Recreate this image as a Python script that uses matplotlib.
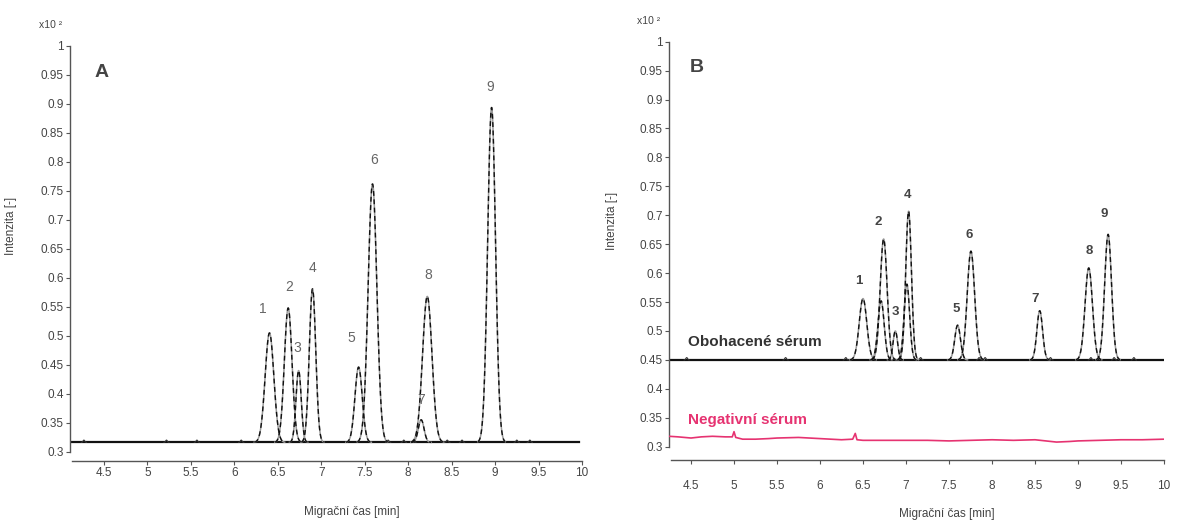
import matplotlib
matplotlib.use("Agg")
import matplotlib.pyplot as plt
from matplotlib.ticker import MultipleLocator, FormatStrFormatter
import numpy as np

plt.rcParams['font.family'] = ['Liberation Sans', 'DejaVu Sans']

# --- panel A: standards ---
a_baseline = 0.316
a_peak_time = [6.405, 6.62, 6.74, 6.90, 7.43, 7.59, 8.15, 8.22, 8.96]
a_peak_height = [0.505, 0.548, 0.440, 0.581, 0.446, 0.762, 0.355, 0.568, 0.894]
a_peak_width = [0.050, 0.044, 0.030, 0.037, 0.042, 0.050, 0.033, 0.054, 0.045]
a_bump_time = [4.27, 5.22, 5.57, 6.08, 7.77, 7.95, 8.06, 8.45, 8.62, 9.25, 9.4]
a_labels = ['1', '2', '3', '4', '5', '6', '7', '8', '9']

# --- panel B: spiked serum + negative serum ---
b_baseline = 0.450
b_peak_time = [6.50, 6.74, 6.876, 7.03, 7.60, 7.755, 8.555, 9.125, 9.35]
b_peak_height = [0.556, 0.659, 0.500, 0.707, 0.510, 0.638, 0.535, 0.609, 0.667]
b_peak_width = [0.044, 0.040, 0.026, 0.033, 0.033, 0.043, 0.033, 0.043, 0.040]
b_extra_time = [6.71, 7.01]
b_extra_height = [0.552, 0.581]
b_extra_width = [0.036, 0.032]
b_bump_time = [4.45, 5.6, 6.3, 7.17, 7.85, 7.92, 8.68, 9.15, 9.42, 9.65]
b_labels = ['1', '2', '3', '4', '5', '6', '7', '8', '9']

neg_time = [4.244, 4.35, 4.5, 4.62, 4.75, 4.9, 4.98, 5.0, 5.02, 5.1, 5.25, 5.4, 5.5,
            5.75, 6.0, 6.25, 6.38, 6.41, 6.43, 6.5, 6.75, 7.0, 7.25, 7.5, 7.75,
            8.0, 8.25, 8.5, 8.75, 8.9, 9.0, 9.25, 9.5, 9.75, 10.0]
neg_value = [0.318, 0.317, 0.315, 0.317, 0.318, 0.317, 0.317, 0.326, 0.316, 0.313, 0.313,
             0.314, 0.315, 0.316, 0.314, 0.312, 0.313, 0.323, 0.312, 0.311, 0.311, 0.311,
             0.311, 0.310, 0.311, 0.312, 0.311, 0.312, 0.308, 0.309, 0.310, 0.311, 0.312,
             0.312, 0.313]

# label offsets in points (dx, dy) from each apex
a_label_off = [(-5, 12), (1, 10), (-1, 11), (0, 10), (-5, 16), (1, 12), (0, 9), (1, 10), (-1, 10)]
b_label_off = [(-3, 8), (-4, 8), (0, 9), (-1, 7), (-1, 7), (-1, 7), (-3, 4), (0, 8), (-3, 10)]


def draw_peak(ax, t0, h, w, base):
    t = np.linspace(t0 - 3.5 * w, t0 + 3.5 * w, 120)
    y = base + (h - base) * np.exp(-0.5 * ((t - t0) / w) ** 2)
    ax.plot(t, y, color='#9a9a9a', lw=1.1, zorder=3)
    ax.plot(t, y, color='#111111', lw=1.0, dashes=(3.5, 2.5), zorder=4)


def draw_bump(ax, t0, base):
    t = np.linspace(t0 - 0.03, t0 + 0.03, 30)
    y = base + 0.004 * np.exp(-0.5 * ((t - t0) / 0.01) ** 2)
    ax.plot(t, y, color='#333333', lw=0.8, zorder=3)


def style_axis(ax, xmin, offset_px, pad_pt):
    ax.set_xlim(xmin, 10.0)
    ax.set_ylim(0.3, 1.0)
    for s in ['top', 'right']:
        ax.spines[s].set_visible(False)
    ax.spines['left'].set_bounds(0.3, 1.0)
    ax.spines['bottom'].set_position(('outward', offset_px * 0.72))
    ax.spines['bottom'].set_bounds(xmin + 0.02, 10.0)
    for s in ['left', 'bottom']:
        ax.spines[s].set_color('#555555')
        ax.spines[s].set_linewidth(1.0)
    ax.yaxis.set_major_locator(MultipleLocator(0.05))
    ax.xaxis.set_major_formatter(FormatStrFormatter('%g'))
    ax.yaxis.set_major_formatter(FormatStrFormatter('%g'))
    ax.set_xticks([x for x in np.arange(4.5, 10.01, 0.5)])
    ax.tick_params(axis='both', direction='out', length=3, width=0.8,
                   color='#555555', labelcolor='#444444', labelsize=8.5)
    ax.tick_params(axis='x', pad=pad_pt)
    ax.tick_params(axis='y', pad=1.5)
    ax.patch.set_alpha(0)


fig = plt.figure(figsize=(11.79, 5.2), dpi=100)
axA = fig.add_axes([70 / 1179, (520 - 451.7) / 520, 512 / 1179, 405.7 / 520])
axB = fig.add_axes([669 / 1179, (520 - 446.7) / 520, 495 / 1179, 405 / 520])

# panel A
style_axis(axA, 4.11, 9.3, 1.0)
axA.plot([4.12, 9.96], [a_baseline, a_baseline], color='#111111', lw=1.6, zorder=2)
for t0 in a_bump_time:
    draw_bump(axA, t0, a_baseline)
for t0, h, w in zip(a_peak_time, a_peak_height, a_peak_width):
    draw_peak(axA, t0, h, w, a_baseline)
for lab, t0, h, off in zip(a_labels, a_peak_time, a_peak_height, a_label_off):
    axA.annotate(lab, (t0, h), xytext=off, textcoords='offset points',
                 ha='center', va='bottom', fontsize=10, color='#666666', zorder=5)
axA.text(4.47, 0.954, 'A', fontsize=14, fontweight='bold', color='#444444',
         ha='center', va='center')
axA.set_xlabel('Migrační čas [min]', fontsize=8.5, color='#444444')
axA.xaxis.set_label_coords(0.55, -0.133)
axA.set_ylabel('Intenzita [-]', fontsize=8.5, color='#444444')
axA.yaxis.set_label_coords(-0.103, 0.556)
fig.text(39 / 1179, 1 - 25 / 520, 'x10 ²', fontsize=7.5, color='#444444',
         ha='left', va='center')

# panel B
style_axis(axB, 4.244, 13.3, 11.5)
axB.plot([4.244, 10.0], [b_baseline, b_baseline], color='#111111', lw=1.6, zorder=2)
for t0 in b_bump_time:
    draw_bump(axB, t0, b_baseline)
for t0, h, w in zip(b_extra_time, b_extra_height, b_extra_width):
    draw_peak(axB, t0, h, w, b_baseline)
for t0, h, w in zip(b_peak_time, b_peak_height, b_peak_width):
    draw_peak(axB, t0, h, w, b_baseline)
for lab, t0, h, off in zip(b_labels, b_peak_time, b_peak_height, b_label_off):
    axB.annotate(lab, (t0, h), xytext=off, textcoords='offset points',
                 ha='center', va='bottom', fontsize=9.5, fontweight='bold',
                 color='#444444', zorder=5)
axB.plot(neg_time, neg_value, color='#e63371', lw=1.2, zorder=3)
axB.text(4.47, 0.481, 'Obohacené sérum', fontsize=11, fontweight='bold',
         color='#333333', ha='left', va='center')
axB.text(4.47, 0.347, 'Negativní sérum', fontsize=11, fontweight='bold',
         color='#e63371', ha='left', va='center')
axB.text(4.57, 0.955, 'B', fontsize=14, fontweight='bold', color='#444444',
         ha='center', va='center')
axB.set_xlabel('Migrační čas [min]', fontsize=8.5, color='#444444')
axB.xaxis.set_label_coords(0.562, -0.152)
axB.set_ylabel('Intenzita [-]', fontsize=8.5, color='#444444')
axB.yaxis.set_label_coords(-0.103, 0.557)
fig.text(637 / 1179, 1 - 20.7 / 520, 'x10 ²', fontsize=7.5, color='#444444',
         ha='left', va='center')

fig.savefig('out.png', dpi=100)
